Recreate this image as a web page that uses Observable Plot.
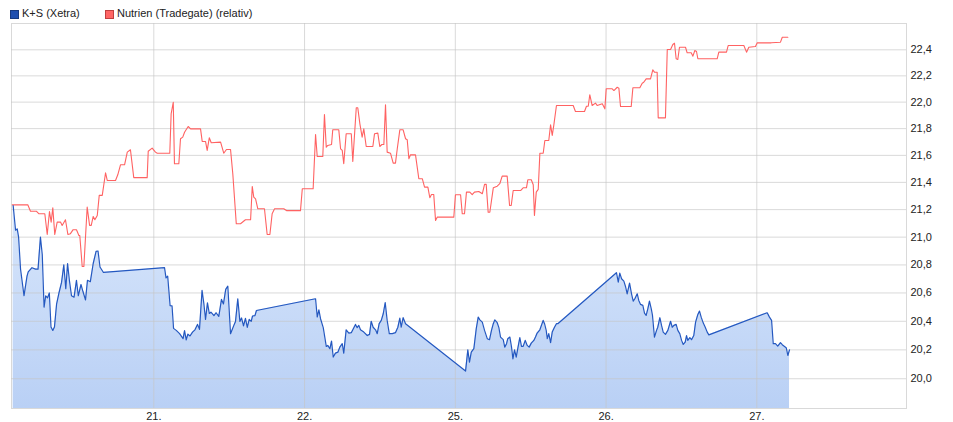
<!DOCTYPE html>
<html>
<head>
<meta charset="utf-8">
<script src="https://cdn.jsdelivr.net/npm/d3@7"></script>
<script src="https://cdn.jsdelivr.net/npm/@observablehq/plot@0.6"></script>
<style>
  html, body { margin: 0; padding: 0; background: #fff; }
  #wrap { position: relative; width: 953px; height: 422px; font-family: "Liberation Sans", Arial, sans-serif; }
  #legend { position: absolute; left: 0; top: 0; height: 22px; font-size: 11px; color: #222; }
  .item { position: absolute; top: 7px; white-space: nowrap; line-height: 13px; }
  .sw { display: inline-block; width: 7px; height: 7px; vertical-align: -1px; margin-right: 4px; }
</style>
</head>
<body>
<div id="wrap">
  <div id="legend"></div>
</div>
<script>
// Time in trading-day units (0 = 20th 08:00, each day 08:00–22:00 = 1 unit)
const dayTicks = [1, 2, 3, 4, 5];
const dayLabels = ["21.", "22.", "25.", "26.", "27."];
const yTicks = [20.0, 20.2, 20.4, 20.6, 20.8, 21.0, 21.2, 21.4, 21.6, 21.8, 22.0, 22.2, 22.4];
const seriesNames = ["K+S (Xetra)", "Nutrien (Tradegate) (relativ)"];

// K+S (Xetra)
const ksT = [0.067,0.083,0.094,0.103,0.116,0.139,0.159,0.167,0.192,0.215,0.232,0.248,0.260,0.272,0.283,0.295,0.307,0.318,0.330,0.341,0.355,0.370,0.388,0.403,0.416,0.428,0.440,0.454,0.471,0.487,0.499,0.517,0.530,0.547,0.560,0.579,0.598,0.617,0.630,0.643,0.666,
1.071,1.081,1.092,1.108,1.121,1.131,1.149,1.171,1.194,1.204,1.215,1.226,1.240,1.257,1.273,1.290,1.303,1.320,1.332,1.343,1.356,1.368,1.379,1.399,1.413,1.431,1.449,1.462,1.477,1.491,1.509,1.531,1.542,1.557,1.571,1.582,1.595,1.608,1.620,1.633,1.646,1.655,1.671,1.681,
2.073,2.084,2.095,2.106,2.124,2.144,2.154,2.168,2.179,2.190,2.205,2.221,2.234,2.250,2.260,2.276,2.294,2.310,2.327,2.338,2.349,2.360,2.371,2.393,2.416,2.431,2.442,2.455,2.471,2.482,2.495,2.509,2.522,2.535,2.548,2.562,2.582,2.603,2.619,2.632,2.641,2.654,2.670,
3.068,3.083,3.094,3.106,3.123,3.139,3.152,3.163,3.179,3.194,3.212,3.227,3.240,3.252,3.262,3.278,3.289,3.300,3.318,3.328,3.340,3.348,3.362,3.373,3.382,3.393,3.404,3.417,3.428,3.439,3.450,3.464,3.477,3.490,3.504,3.521,3.532,3.543,3.561,3.583,3.592,3.603,3.610,3.620,3.632,3.643,3.658,3.671,3.680,
4.069,4.081,4.091,4.103,4.118,4.129,4.140,4.156,4.169,4.180,4.191,4.207,4.217,4.229,4.244,4.255,4.266,4.277,4.288,4.300,4.308,4.321,4.335,4.343,4.357,4.368,4.379,4.394,4.410,4.428,4.439,4.450,4.465,4.476,4.489,4.501,4.512,4.525,4.534,4.542,4.556,4.567,4.582,4.594,4.609,4.620,4.631,4.645,4.658,4.671,4.682,
5.069,5.084,5.098,5.109,5.124,5.139,5.157,5.169,5.184,5.195,5.206,5.217];
const ksV = [21.23,21.05,21.06,21.00,20.77,20.58,20.72,20.75,20.78,20.77,20.77,21.00,20.875,20.50,20.58,20.565,20.60,20.36,20.336,20.36,20.52,20.596,20.675,20.80,20.63,20.81,20.69,20.58,20.57,20.69,20.58,20.66,20.61,20.55,20.69,20.68,20.81,20.897,20.90,20.785,20.746,
20.78,20.707,20.72,20.51,20.508,20.35,20.336,20.313,20.278,20.334,20.27,20.31,20.297,20.324,20.34,20.378,20.343,20.618,20.524,20.413,20.53,20.455,20.464,20.44,20.46,20.434,20.554,20.522,20.625,20.648,20.313,20.371,20.399,20.559,20.399,20.423,20.367,20.42,20.357,20.413,20.399,20.437,20.44,20.476,
20.559,20.43,20.48,20.418,20.355,20.224,20.231,20.208,20.261,20.15,20.177,20.184,20.219,20.243,20.177,20.34,20.317,20.32,20.355,20.378,20.355,20.371,20.34,20.324,20.30,20.308,20.40,20.358,20.34,20.313,20.383,20.406,20.453,20.531,20.406,20.313,20.313,20.32,20.358,20.422,20.358,20.425,20.383,
20.053,20.20,20.115,20.184,20.208,20.348,20.429,20.41,20.394,20.336,20.278,20.271,20.336,20.383,20.41,20.39,20.355,20.289,20.271,20.219,20.243,20.278,20.289,20.219,20.138,20.20,20.15,20.224,20.285,20.224,20.224,20.266,20.231,20.219,20.247,20.266,20.289,20.317,20.34,20.406,20.383,20.336,20.278,20.313,20.25,20.324,20.358,20.383,20.383,
20.744,20.677,20.741,20.701,20.684,20.646,20.594,20.67,20.594,20.542,20.559,20.594,20.547,20.519,20.512,20.457,20.441,20.488,20.542,20.488,20.441,20.289,20.336,20.358,20.425,20.371,20.324,20.308,20.336,20.40,20.358,20.371,20.378,20.336,20.313,20.266,20.238,20.254,20.30,20.266,20.285,20.271,20.30,20.394,20.448,20.472,20.429,20.387,20.358,20.324,20.305,
20.46,20.429,20.406,20.243,20.243,20.226,20.25,20.236,20.224,20.215,20.161,20.20];

// Nutrien (Tradegate), relative
const nuT = [0.061,0.164,0.182,0.222,0.237,0.277,0.293,0.308,0.319,0.330,0.343,0.359,0.381,0.392,0.414,0.430,0.447,0.465,0.487,0.503,0.509,0.525,0.536,0.558,0.574,0.585,0.598,0.609,0.625,0.638,0.658,0.680,0.691,0.746,0.761,0.779,0.806,0.824,0.845,0.867,0.956,0.963,0.989,
1.011,1.023,1.106,1.115,1.129,1.137,1.166,1.177,1.192,1.204,1.228,1.244,1.310,1.321,1.343,1.354,1.368,1.381,1.443,1.464,1.482,1.509,1.524,1.547,1.575,1.608,1.642,1.653,1.663,1.675,1.690,1.734,1.752,1.770,1.785,1.801,1.862,1.880,1.973,1.985,
2.057,2.073,2.084,2.121,2.132,2.144,2.154,2.179,2.187,2.227,2.239,2.250,2.260,2.276,2.310,2.320,2.343,2.353,2.367,2.382,2.393,2.409,2.453,2.464,2.486,2.499,2.513,2.526,2.537,2.548,2.570,2.588,2.603,2.615,2.632,2.654,2.670,2.681,2.692,2.703,2.736,2.758,2.781,2.796,2.818,2.831,2.842,2.857,2.869,2.880,2.990,
3.001,3.035,3.046,3.061,3.074,3.096,3.112,3.127,3.156,3.179,3.194,3.205,3.218,3.229,3.252,3.278,3.295,3.311,3.344,3.360,3.371,3.384,3.433,3.450,3.472,3.481,3.504,3.517,3.525,3.537,3.550,3.561,3.583,3.594,3.620,3.632,3.643,3.653,3.671,3.782,3.797,3.857,3.870,3.882,3.892,3.908,3.930,3.941,3.975,3.992,
4.001,4.041,4.052,4.074,4.085,4.096,4.167,4.178,4.224,4.240,4.250,4.266,4.295,4.310,4.321,4.339,4.346,4.394,4.406,4.428,4.443,4.454,4.465,4.476,4.487,4.527,4.538,4.565,4.576,4.589,4.600,4.609,4.737,4.748,4.799,4.810,4.914,4.932,4.947,4.991,
5.003,5.096,5.157,5.169,5.206];
const nuV = [21.235,21.235,21.188,21.188,21.17,21.17,21.019,21.186,21.109,21.213,21.019,21.109,21.109,21.085,21.126,21.019,21.025,21.054,21.054,21.012,21.012,20.789,20.789,21.218,21.085,21.085,21.15,21.126,21.157,21.304,21.304,21.471,21.414,21.414,21.456,21.53,21.53,21.624,21.642,21.435,21.435,21.631,21.654,
21.624,21.616,21.616,21.912,21.999,21.538,21.538,21.724,21.736,21.773,21.816,21.798,21.798,21.704,21.704,21.637,21.731,21.694,21.699,21.616,21.644,21.644,21.464,21.097,21.097,21.126,21.126,21.37,21.291,21.279,21.206,21.206,21.019,21.019,21.17,21.206,21.206,21.193,21.193,21.353,
21.353,21.756,21.592,21.592,21.906,21.661,21.674,21.681,21.791,21.791,21.649,21.637,21.538,21.761,21.761,21.555,21.957,21.957,21.836,21.736,21.798,21.666,21.666,21.761,21.766,21.666,21.681,21.681,21.98,21.624,21.616,21.542,21.542,21.649,21.791,21.791,21.724,21.716,21.575,21.604,21.604,21.427,21.427,21.365,21.365,21.287,21.311,21.311,21.121,21.145,21.145,
21.309,21.309,21.17,21.17,21.328,21.328,21.309,21.328,21.333,21.316,21.385,21.385,21.181,21.181,21.36,21.372,21.39,21.446,21.446,21.23,21.23,21.34,21.34,21.36,21.36,21.419,21.419,21.382,21.157,21.328,21.348,21.616,21.616,21.711,21.711,21.829,21.749,21.823,21.974,21.974,21.929,21.929,21.969,21.969,22.056,21.974,21.992,21.974,21.987,21.949,
22.101,22.101,22.088,22.113,22.106,21.967,21.967,22.109,22.109,22.144,22.151,22.177,22.177,22.246,22.228,22.228,21.881,21.881,22.402,22.402,22.441,22.451,22.331,22.325,22.42,22.42,22.377,22.377,22.351,22.395,22.387,22.331,22.331,22.382,22.382,22.433,22.433,22.382,22.42,22.425,
22.454,22.454,22.459,22.497,22.497];

const ks = ksT.map((t, i) => ({t, v: ksV[i]}));
const nu = nuT.map((t, i) => ({t, v: nuV[i]}));

const yMin = 19.796, yMax = 22.604;
const fmt = d => d.toFixed(1).replace(".", ",");

const chart = Plot.plot({
  width: 953,
  height: 422,
  marginLeft: 11,
  marginRight: 47,
  marginTop: 23,
  marginBottom: 14,
  style: {fontFamily: "'Liberation Sans', Arial, sans-serif", fontSize: "11px", color: "#222", background: "#fff", overflow: "visible"},
  x: {domain: [0.056, 5.993]},
  y: {type: "log", domain: [yMin, yMax]},
  marks: [
    Plot.areaY(ks, {x: "t", y1: () => yMin, y2: "v", fill: "url(#ksFill)", curve: "linear"}),
    Plot.gridY(yTicks, {stroke: "#c4c4c4", strokeOpacity: 0.65}),
    Plot.gridX(dayTicks, {stroke: "#c4c4c4", strokeOpacity: 0.65}),
    Plot.frame({stroke: "#c4c4c4", strokeOpacity: 0.65}),
    Plot.lineY(nu, {x: "t", y: "v", stroke: "#ff6262", strokeWidth: 1.1}),
    Plot.lineY(ks, {x: "t", y: "v", stroke: "#2458c0", strokeWidth: 1.2}),
    Plot.axisY(yTicks, {anchor: "right", tickSize: 0, tickPadding: 4, tickFormat: fmt, label: null}),
    Plot.axisX(dayTicks, {anchor: "bottom", tickSize: 0, tickPadding: 4, tickFormat: (d, i) => dayLabels[i], label: null})
  ]
});

const ns = "http://www.w3.org/2000/svg";
const defs = document.createElementNS(ns, "defs");
const grad = document.createElementNS(ns, "linearGradient");
grad.setAttribute("id", "ksFill");
grad.setAttribute("x1", "0"); grad.setAttribute("y1", "0");
grad.setAttribute("x2", "0"); grad.setAttribute("y2", "1");
[["0", "#d8e6fb"], ["1", "#b9d0f5"]].forEach(([o, c]) => {
  const s = document.createElementNS(ns, "stop");
  s.setAttribute("offset", o); s.setAttribute("stop-color", c);
  grad.appendChild(s);
});
defs.appendChild(grad);
chart.insertBefore(defs, chart.firstChild);

document.getElementById("wrap").appendChild(chart);

// Legend
const legend = document.getElementById("legend");
const swatches = [
  {fill: "#1f4fb0", stroke: "#173a80", left: 11},
  {fill: "#ff6666", stroke: "#c04040", left: 106}
];
seriesNames.forEach((name, i) => {
  const it = document.createElement("div");
  it.className = "item";
  it.style.left = swatches[i].left + "px";
  const sw = document.createElement("span");
  sw.className = "sw";
  sw.style.background = swatches[i].fill;
  sw.style.outline = "1px solid " + swatches[i].stroke;
  it.appendChild(sw);
  it.appendChild(document.createTextNode(name));
  legend.appendChild(it);
});
</script>
</body>
</html>
